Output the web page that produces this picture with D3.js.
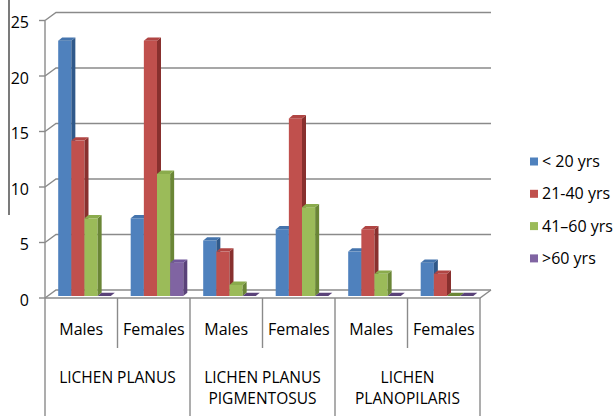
<!DOCTYPE html>
<html>
<head>
<meta charset="utf-8">
<script src="https://cdn.jsdelivr.net/npm/d3@7"></script>
<style>
  html, body { margin: 0; padding: 0; background: #fff; }
  svg { display: block; font-family: "Open Sans", "Liberation Sans", sans-serif; }
</style>
</head>
<body>
<svg id="chart" width="616" height="416"></svg>
<script>
// Age distribution of patients by diagnosis and sex
const groupLines = [["LICHEN PLANUS"], ["LICHEN PLANUS", "PIGMENTOSUS"], ["LICHEN", "PLANOPILARIS"]];
const sexes = ["Males", "Females"];
const seriesNames = ["< 20 yrs", "21-40 yrs", "41–60 yrs", ">60 yrs"];
const under20 = [23, 7, 5, 6, 4, 3];
const age21to40 = [14, 23, 4, 16, 6, 2];
const age41to60 = [7, 11, 1, 8, 2, 0];
const over60 = [0, 3, 0, 0, 0, 0];
const yTicks = [0, 5, 10, 15, 20, 25];

const seriesValues = [under20, age21to40, age41to60, over60];
const frontColors = ["#4f81bd", "#c0504d", "#9bbb59", "#8064a2"];
const sideColors = ["#30598a", "#88302e", "#6a8636", "#5a4279"];
const topColors = ["#4474ad", "#b04543", "#8aab4c", "#71579a"];

// category slots: each group has a Males and Females slot
const slots = [];
groupLines.forEach((g, gi) => sexes.forEach((s, si) => slots.push({ group: gi, sex: s, idx: gi * 2 + si })));

const svg = d3.select("#chart");

const x = d3.scaleBand().domain(slots.map(d => d.idx)).range([45, 480]).paddingInner(0).paddingOuter(0);
const xGroup = d3.scaleBand().domain(groupLines.map((d, i) => i)).range([45, 480]);
const yFront = d3.scaleLinear().domain([0, 25]).range([298, 20.5]);
const yBar = d3.scaleLinear().domain([0, 25]).range([296, 18.5]);
const sub = d3.scaleBand().domain(seriesNames).range([13.2, 65.8]);

const DX = 11, DY = -8;      // wall depth
const BDX = 4, BDY = -3.3;   // bar depth
const grid = "#8a8a8a";

// left edge rule
svg.append("line").attr("x1", 9).attr("x2", 9).attr("y1", 0).attr("y2", 215)
  .attr("stroke", "#222").attr("stroke-width", 1.2);

// back wall gridlines with left-wall slants
const gridG = svg.append("g").attr("fill", "none").attr("stroke", grid).attr("stroke-width", 1.4);
yTicks.forEach(v => {
  const yf = yFront(v);
  gridG.append("path")
    .attr("d", `M${x.range()[0]},${yf}L${x.range()[0] + DX},${yf + DY}L${x.range()[1] + DX},${yf + DY}`);
  gridG.append("line").attr("x1", 39).attr("x2", 45).attr("y1", yf).attr("y2", yf);
});
// floor outline
gridG.append("path")
  .attr("d", `M${x.range()[0]},${yFront(0)}L${x.range()[1]},${yFront(0)}L${x.range()[1] + DX},${yFront(0) + DY}`);
// front value axis line
gridG.append("line").attr("x1", 45).attr("x2", 45).attr("y1", yFront(25)).attr("y2", 416);

// category separators
slots.forEach(d => {
  if (d.idx === 0) return;
  const xx = x(d.idx);
  const isGroup = d.idx % 2 === 0;
  gridG.append("line").attr("x1", xx).attr("x2", xx)
    .attr("y1", yFront(0)).attr("y2", isGroup ? 416 : 348);
});
gridG.append("line").attr("x1", x.range()[1]).attr("x2", x.range()[1])
  .attr("y1", yFront(0)).attr("y2", 416);

// y tick labels
svg.append("g").selectAll("text").data(yTicks).join("text")
  .attr("x", 29).attr("y", d => yFront(d) + 2).attr("dy", "0.35em")
  .attr("text-anchor", "end").attr("font-size", 16).attr("fill", "#000")
  .text(d => d);

// 3D bars
const barsG = svg.append("g");
slots.forEach(slot => {
  seriesNames.forEach((name, si) => {
    const v = seriesValues[si][slot.idx];
    const x0 = x(slot.idx) + sub(name);
    const x1 = x0 + sub.bandwidth();
    const y0 = yBar(0), yt = yBar(v);
    const g = barsG.append("g");
    if (v > 0) {
      g.append("rect").attr("x", x0).attr("y", yt).attr("width", x1 - x0).attr("height", y0 - yt)
        .attr("fill", frontColors[si]);
      g.append("path")
        .attr("d", `M${x1},${yt}L${x1 + BDX},${yt + BDY}L${x1 + BDX},${y0 + BDY}L${x1},${y0}Z`)
        .attr("fill", sideColors[si]);
    }
    g.append("path")
      .attr("d", `M${x0},${yt}L${x0 + BDX},${yt + BDY}L${x1 + BDX},${yt + BDY}L${x1},${yt}Z`)
      .attr("fill", v > 0 ? topColors[si] : sideColors[si]);
  });
});

// sex labels
svg.append("g").selectAll("text").data(slots).join("text")
  .attr("x", d => x(d.idx) + x.bandwidth() / 2).attr("y", 329).attr("dy", "0.35em")
  .attr("text-anchor", "middle").attr("font-size", 16).attr("fill", "#000")
  .text(d => d.sex);

// group labels
const gl = svg.append("g").selectAll("text").data(groupLines).join("text")
  .attr("text-anchor", "middle").attr("font-size", 15.5).attr("fill", "#000");
gl.each(function (lines, i) {
  const t = d3.select(this);
  lines.forEach((ln, li) => {
    t.append("tspan").attr("x", xGroup(i) + xGroup.bandwidth() / 2)
      .attr("y", 378 + li * 21).attr("dy", "0.35em").text(ln);
  });
});

// legend
const legend = svg.append("g").selectAll("g").data(seriesNames).join("g")
  .attr("transform", (d, i) => `translate(530,${161.5 + i * 32.3})`);
legend.append("rect").attr("x", 0).attr("y", -4).attr("width", 8).attr("height", 8)
  .attr("fill", (d, i) => frontColors[i]);
legend.append("text").attr("x", 12).attr("y", 0).attr("dy", "0.35em")
  .attr("font-size", 16).attr("fill", "#000").text(d => d);
</script>
</body>
</html>
